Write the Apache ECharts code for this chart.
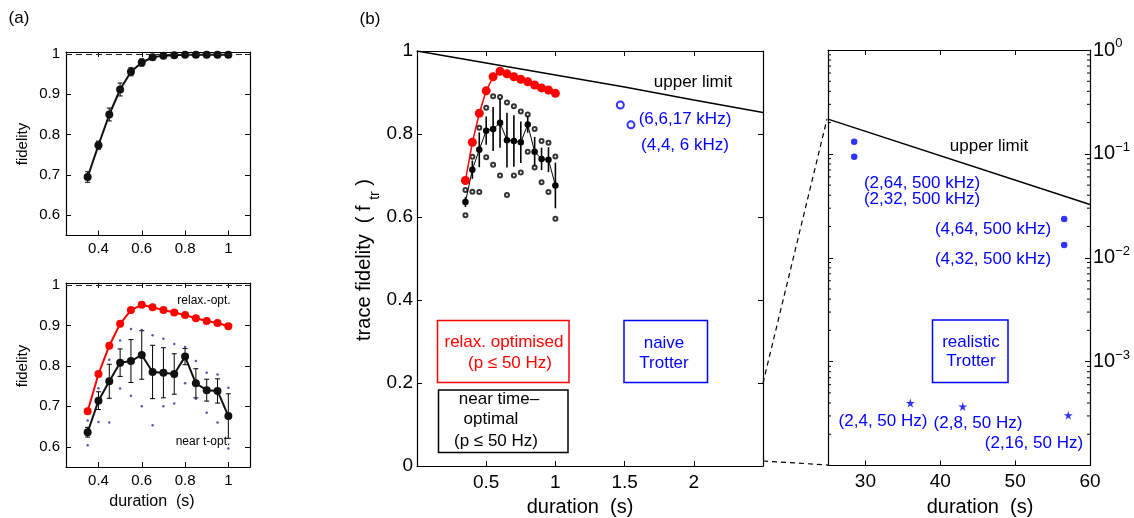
<!DOCTYPE html>
<html><head><meta charset="utf-8">
<script src="https://cdn.jsdelivr.net/npm/echarts@6/dist/echarts.min.js"></script>
<style>html,body{margin:0;padding:0;background:#fff}#c{width:1134px;height:518px}</style>
</head><body><div id="c"></div>
<script>
// ---------- data ----------
const durations   = [0.35,0.40,0.45,0.50,0.55,0.60,0.65,0.70,0.75,0.80,0.85,0.90,0.95,1.00];
const unitaryFid  = [0.695,0.774,0.850,0.912,0.956,0.979,0.992,0.996,0.997,0.998,0.998,0.998,0.998,0.998];
const unitaryErr  = [0.013,0.010,0.016,0.016,0.010,0.009,0.004,0.003,0.003,0.003,0.003,0.003,0.003,0.003];
const relaxOpt    = [0.688,0.780,0.850,0.904,0.938,0.951,0.945,0.938,0.932,0.926,0.918,0.911,0.906,0.898];
const nearTOpt    = [0.636,0.714,0.762,0.808,0.812,0.827,0.785,0.783,0.780,0.823,0.757,0.740,0.738,0.676];
const nearTOptErr = [0.012,0.022,0.042,0.034,0.053,0.060,0.066,0.062,0.050,0.020,0.036,0.027,0.030,0.055];
const nearTOptMax = [0.665,0.745,0.815,0.863,0.891,0.889,0.876,0.867,0.854,0.847,0.812,0.783,0.779,0.746];
const nearTOptMin = [0.604,0.661,0.660,0.744,0.726,0.700,0.653,0.700,0.707,0.757,0.719,0.684,0.660,0.596];
const upperLimitDur = [0, 0.5, 1, 1.5, 2, 2.5];
const upperLimitFid = [1, 0.971, 0.942, 0.913, 0.882, 0.852];
const naiveDur = [1.469, 1.546];
const naiveFid = [0.870, 0.822];
const realDur500 = [28.5, 28.5, 56.55, 56.55];
const realFid500 = [0.131, 0.094, 0.0236, 0.0133];
const realDur50  = [36, 43, 57.1];
const realFid50  = [0.00040, 0.00037, 0.000305];
const upperLogDur = [25, 60];
const upperLogFid = [0.216, 0.0326];
const ticksAx = [0.4, 0.6, 0.8, 1];
const ticksAy = [0.6, 0.7, 0.8, 0.9, 1];
const ticksRx = [30, 40, 50, 60];
const logDecades = [0.0001, 0.001, 0.01, 0.1];
const logMinorMultipliers = [2, 3, 4, 5, 6, 7, 8, 9];

// ---------- helpers ----------
const FONT = "'Liberation Sans', Arial, Helvetica, sans-serif";
const BLUE = '#0000ff', RED = '#ff0000';
const zip = (a, b) => a.map((v, i) => [v, b[i]]);

function axisBase(gi, pos, extra, fs, showLabel) {
  return Object.assign({
    gridIndex: gi, position: pos, type: 'value',
    axisLine: { show: true, onZero: false, lineStyle: { color: '#000', width: 1.2 } },
    axisTick: { show: true, inside: true, length: 5, lineStyle: { color: '#000', width: 1 } },
    axisLabel: { show: showLabel, color: '#000', fontSize: fs, fontFamily: FONT, margin: 6 },
    splitLine: { show: false }
  }, extra);
}
function custTicks(vals, fs, show) {
  return {
    axisTick: { show: true, inside: true, length: 5, lineStyle: { color: '#000', width: 1 }, customValues: vals },
    axisLabel: { show: show, color: '#000', fontSize: fs, fontFamily: FONT, margin: 6, customValues: vals }
  };
}

function errorBars(xi, yi, xs, ys, es, cap, lw) {
  return {
    type: 'custom', xAxisIndex: xi, yAxisIndex: yi, z: 2, silent: true,
    data: xs.map((x, i) => [x, ys[i], es[i]]),
    encode: { x: 0, y: 1 },
    renderItem(params, api) {
      const x = api.value(0), y = api.value(1), e = api.value(2);
      const t = api.coord([x, y + e]), b = api.coord([x, y - e]);
      const st = { stroke: '#000', lineWidth: lw };
      const ch = [{ type: 'line', shape: { x1: t[0], y1: t[1], x2: b[0], y2: b[1] }, style: st }];
      if (cap) {
        ch.push({ type: 'line', shape: { x1: t[0] - cap, y1: t[1], x2: t[0] + cap, y2: t[1] }, style: st });
        ch.push({ type: 'line', shape: { x1: b[0] - cap, y1: b[1], x2: b[0] + cap, y2: b[1] }, style: st });
      }
      return { type: 'group', children: ch };
    }
  };
}

// minor ticks of the log axis (both box sides), placed through the axis scale
const minorTickVals = [];
logDecades.forEach(d => logMinorMultipliers.forEach(m => minorTickVals.push([40, m * d])));
const logMinorTicks = {
  type: 'custom', xAxisIndex: 6, yAxisIndex: 6, z: 5, silent: true, clip: false,
  data: minorTickVals, encode: { x: 0, y: 1 },
  renderItem(params, api) {
    const p = api.coord([api.value(0), api.value(1)]);
    const cs = params.coordSys;
    const st = { stroke: '#000', lineWidth: 1 };
    return { type: 'group', children: [
      { type: 'line', shape: { x1: cs.x, y1: p[1], x2: cs.x + 3, y2: p[1] }, style: st },
      { type: 'line', shape: { x1: cs.x + cs.width - 3, y1: p[1], x2: cs.x + cs.width, y2: p[1] }, style: st }
    ] };
  }
};

const STAR = 'path://M50,0 L61,35 L98,35 L68,57 L79,91 L50,70 L21,91 L32,57 L2,35 L39,35 Z';

const supMap = { '0': '0', '-1': '−1', '-2': '−2', '-3': '−3', '-4': '−4' };
function logLabel(v) {
  const e = Math.round(Math.log10(v));
  if (e <= -4 || e > 0) return '';
  return '10{sup|' + supMap[String(e)] + '}';
}

// ---------- axes ----------
const xAxis = [
  axisBase(0, 'bottom', Object.assign({ min: 0.25, max: 1.1 }, custTicks(ticksAx, 15, true)), 15, true),
  axisBase(0, 'top', Object.assign({ min: 0.25, max: 1.1 }, custTicks(ticksAx, 15, false)), 15, false),
  axisBase(1, 'bottom', Object.assign({ min: 0.25, max: 1.1 }, custTicks(ticksAx, 15, true)), 15, true),
  axisBase(1, 'top', Object.assign({ min: 0.25, max: 1.1 }, custTicks(ticksAx, 15, false)), 15, false),
  axisBase(2, 'bottom', { min: 0, max: 2.5, interval: 0.5 }, 19, true),
  axisBase(2, 'top', { min: 0, max: 2.5, interval: 0.5 }, 19, false),
  axisBase(3, 'bottom', Object.assign({ min: 25, max: 60 }, custTicks(ticksRx, 19, true)), 19, true),
  axisBase(3, 'top', Object.assign({ min: 25, max: 60 }, custTicks(ticksRx, 19, false)), 19, false)
];
xAxis[4].axisLabel.formatter = v => (v === 0 || v === 2.5) ? '' : String(v);
xAxis[4].axisLabel.margin = 7;
xAxis[6].axisLabel.margin = 7;

const logAxis = (pos, show) => ({
  gridIndex: 3, position: pos, type: 'log', logBase: 10, min: 0.0001, max: 1,
  axisLine: { show: true, onZero: false, lineStyle: { color: '#000', width: 1.2 } },
  axisTick: { show: true, inside: true, length: 5, lineStyle: { color: '#000' } },
  minorTick: { show: false },
  axisLabel: {
    show: show, color: '#000', fontSize: 20, fontFamily: FONT, margin: 3, lineHeight: 26,
    formatter: logLabel,
    rich: { sup: { fontSize: 13, fontFamily: FONT, color: '#000', lineHeight: 12, verticalAlign: 'top' } }
  },
  splitLine: { show: false }
});

const yAxis = [
  axisBase(0, 'left', Object.assign({ min: 0.55, max: 1.005 }, custTicks(ticksAy, 15, true)), 15, true),
  axisBase(0, 'right', Object.assign({ min: 0.55, max: 1.005 }, custTicks(ticksAy, 15, false)), 15, false),
  axisBase(1, 'left', Object.assign({ min: 0.55, max: 1.005 }, custTicks(ticksAy, 15, true)), 15, true),
  axisBase(1, 'right', Object.assign({ min: 0.55, max: 1.005 }, custTicks(ticksAy, 15, false)), 15, false),
  axisBase(2, 'left', { min: 0, max: 1, interval: 0.2 }, 19, true),
  axisBase(2, 'right', { min: 0, max: 1, interval: 0.2 }, 19, false),
  logAxis('left', false),
  logAxis('right', true)
];
yAxis[4].axisLabel.margin = 4;

// ---------- series ----------
const dashedOne = {
  silent: true, symbol: ['none', 'none'], label: { show: false },
  lineStyle: { type: [6, 4], color: '#222', width: 1 }, data: [{ yAxis: 1 }]
};
const series = [
  // (a) top
  errorBars(0, 0, durations, unitaryFid, unitaryErr, 2.5, 1),
  { type: 'line', xAxisIndex: 0, yAxisIndex: 0, data: zip(durations, unitaryFid), z: 3,
    lineStyle: { color: '#111', width: 2 }, symbol: 'circle', symbolSize: 8, itemStyle: { color: '#111' },
    markLine: dashedOne },
  // (a) bottom
  { type: 'scatter', xAxisIndex: 2, yAxisIndex: 2, data: zip(durations, nearTOptMax), symbolSize: 2.5, itemStyle: { color: '#2b2ba0' } },
  { type: 'scatter', xAxisIndex: 2, yAxisIndex: 2, data: zip(durations, nearTOptMin), symbolSize: 2.5, itemStyle: { color: '#2b2ba0' } },
  errorBars(2, 2, durations, nearTOpt, nearTOptErr, 2.5, 1),
  { type: 'line', xAxisIndex: 2, yAxisIndex: 2, data: zip(durations, relaxOpt), z: 3,
    lineStyle: { color: RED, width: 2 }, symbol: 'circle', symbolSize: 8, itemStyle: { color: RED },
    markLine: dashedOne },
  { type: 'line', xAxisIndex: 2, yAxisIndex: 2, data: zip(durations, nearTOpt), z: 3,
    lineStyle: { color: '#111', width: 2 }, symbol: 'circle', symbolSize: 8, itemStyle: { color: '#111' } },
  // (b) main
  { type: 'line', xAxisIndex: 4, yAxisIndex: 4, data: zip(upperLimitDur, upperLimitFid), symbol: 'none',
    lineStyle: { color: '#000', width: 1.5 } },
  { type: 'scatter', xAxisIndex: 4, yAxisIndex: 4, data: zip(durations, nearTOptMax), symbol: 'emptyCircle', symbolSize: 4,
    itemStyle: { color: '#000', borderColor: '#000', borderWidth: 1 } },
  { type: 'scatter', xAxisIndex: 4, yAxisIndex: 4, data: zip(durations, nearTOptMin), symbol: 'emptyCircle', symbolSize: 4,
    itemStyle: { color: '#000', borderColor: '#000', borderWidth: 1 } },
  errorBars(4, 4, durations, nearTOpt, nearTOptErr, 0, 1.6),
  { type: 'line', xAxisIndex: 4, yAxisIndex: 4, data: zip(durations, relaxOpt), z: 3,
    lineStyle: { color: RED, width: 1.5 }, symbol: 'circle', symbolSize: 9, itemStyle: { color: RED } },
  { type: 'line', xAxisIndex: 4, yAxisIndex: 4, data: zip(durations, nearTOpt), z: 3,
    lineStyle: { color: '#000', width: 1 }, symbol: 'circle', symbolSize: 6.5, itemStyle: { color: '#000' } },
  { type: 'scatter', xAxisIndex: 4, yAxisIndex: 4, data: zip(naiveDur, naiveFid), symbol: 'emptyCircle', symbolSize: 7,
    itemStyle: { color: BLUE, borderColor: BLUE, borderWidth: 1 } },
  // (b) right log
  logMinorTicks,
  { type: 'line', xAxisIndex: 6, yAxisIndex: 6, data: zip(upperLogDur, upperLogFid), symbol: 'none',
    lineStyle: { color: '#000', width: 1.5 } },
  { type: 'scatter', xAxisIndex: 6, yAxisIndex: 6, data: zip(realDur500, realFid500), symbol: 'circle', symbolSize: 6.5,
    itemStyle: { color: BLUE } },
  { type: 'scatter', xAxisIndex: 6, yAxisIndex: 6, data: zip(realDur50, realFid50), symbol: STAR, symbolSize: 9,
    itemStyle: { color: BLUE } }
];

// ---------- annotations ----------
function txt(s, x, y, size, color, extra) {
  return Object.assign({
    type: 'text', x: x, y: y, silent: true, z: 100,
    style: { text: s, fill: color || '#000', font: size + 'px ' + FONT,
      align: 'center', verticalAlign: 'middle', textAlign: 'center', textVerticalAlign: 'middle' }
  }, extra || {});
}
function box(x, y, w, h, color) {
  return { type: 'rect', silent: true, z: 90, shape: { x: x, y: y, width: w, height: h },
    style: { fill: 'none', stroke: color, lineWidth: 1.5 } };
}
function dline(x1, y1, x2, y2) {
  return { type: 'line', silent: true, z: 90, shape: { x1, y1, x2, y2 },
    style: { stroke: '#000', lineWidth: 1.2, lineDash: [5, 4] } };
}
const graphic = [
  txt('(a)', 19, 18, 17),
  txt('(b)', 370, 19, 17),
  txt('fidelity', 23, 144, 15, '#000', { rotation: Math.PI / 2 }),
  txt('fidelity', 23, 366, 15, '#000', { rotation: Math.PI / 2 }),
  txt('duration  (s)', 152, 502, 16),
  txt('relax.-opt.', 204, 301, 12),
  txt('near t-opt.', 203, 442, 12),
  // (b) main
  { type: 'text', x: 364, y: 260, rotation: Math.PI / 2, silent: true, z: 100,
    style: { text: 'trace fidelity  ( f {sub|tr} )', fill: '#000', font: '20px ' + FONT, lineHeight: 36,
      align: 'center', verticalAlign: 'middle', textAlign: 'center', textVerticalAlign: 'middle',
      rich: { sub: { fontSize: 14, fontFamily: FONT, lineHeight: 16, verticalAlign: 'bottom', fill: '#000' } } } },
  txt('duration  (s)', 580, 507, 20),
  txt('upper limit', 693, 82, 17),
  txt('(6,6,17 kHz)', 685, 119, 17, BLUE),
  txt('(4,4, 6 kHz)', 685, 145, 17, BLUE),
  box(437.5, 320.5, 131.5, 62, RED),
  txt('relax. optimised', 504, 342, 17, RED),
  txt('(p \u2264 50 Hz)', 510, 363, 17, RED),
  box(438.5, 390, 129.5, 62.5, '#000'),
  txt('near time\u2013', 499, 399.5, 17),
  txt('optimal', 491, 419.5, 17),
  txt('(p \u2264 50 Hz)', 496, 441, 17),
  box(624, 320.5, 83.5, 62, BLUE),
  txt('naive', 664, 343.5, 17, BLUE),
  txt('Trotter', 664, 363.5, 17, BLUE),
  // connectors
  dline(763, 383, 827, 119),
  dline(763, 461, 828, 465),
  // right panel
  txt('duration  (s)', 980, 507, 20),
  txt('upper limit', 989, 146, 17),
  txt('(2,64, 500 kHz)', 922, 183, 17, BLUE),
  txt('(2,32, 500 kHz)', 922, 199.5, 17, BLUE),
  txt('(4,64, 500 kHz)', 993, 229, 17, BLUE),
  txt('(4,32, 500 kHz)', 993, 259, 17, BLUE),
  box(932.5, 320, 75.5, 62.5, BLUE),
  txt('realistic', 971, 342.5, 17, BLUE),
  txt('Trotter', 971, 361, 17, BLUE),
  txt('(2,4, 50 Hz)', 883, 421, 17, BLUE),
  txt('(2,8, 50 Hz)', 978, 423, 17, BLUE),
  txt('(2,16, 50 Hz)', 1034, 443.5, 17, BLUE)
];

const option = {
  animation: false,
  backgroundColor: '#fff',
  textStyle: { fontFamily: FONT },
  grid: [
    { left: 66, top: 52, width: 184, height: 183.5 },
    { left: 66, top: 283, width: 184, height: 184 },
    { left: 417, top: 51, width: 346, height: 415 },
    { left: 828, top: 50, width: 262, height: 415.5 }
  ],
  xAxis, yAxis, series, graphic
};
const chart = echarts.init(document.getElementById('c'), null, { renderer: 'canvas' });
chart.setOption(option);
</script></body></html>
